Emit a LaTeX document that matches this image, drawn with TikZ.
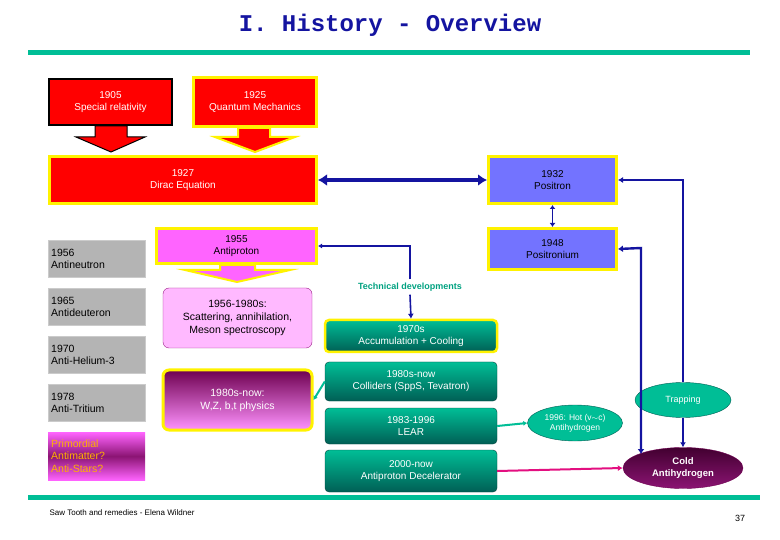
\documentclass[tikz,border=0pt]{standalone}
\usepackage{fontspec}
\setmainfont{Liberation Sans}
\newfontfamily\titlefont{Liberation Mono}
\usetikzlibrary{shapes.geometric,arrows.meta}
\definecolor{teal1}{RGB}{0,190,150}
\definecolor{teal2}{RGB}{0,95,85}
\definecolor{navy}{RGB}{20,20,160}
\definecolor{pvio}{RGB}{115,115,255}
\definecolor{mag}{RGB}{255,100,255}
\definecolor{dpur}{RGB}{110,0,80}
\definecolor{gry}{RGB}{180,180,180}
\begin{document}
\begin{tikzpicture}[x=1pt,y=-1pt,font=\fontsize{10}{12}\selectfont,
 redbox/.style={draw=yellow,line width=3pt,fill=red,text=white,align=center,inner sep=0},
 graybox/.style={draw=gry!70!white,fill=gry,align=left,anchor=north west,minimum width=97pt,minimum height=37pt,inner sep=3pt,text width=91pt,font=\fontsize{10.5}{12.5}\selectfont},
 greenbox/.style={draw=teal2!70!black,rounded corners=4pt,top color=teal1,bottom color=teal2,text=white,align=center,minimum width=172pt,inner sep=0},
 ell/.style={ellipse,draw=teal2,fill=teal1,text=white,align=center,inner sep=0,font=\fontsize{8.5}{10}\selectfont},
 conn/.style={draw=navy,line width=1.6pt,-{Latex[length=5pt,width=6pt]}}]
\useasboundingbox (0,0) rectangle (780,540);
\node[font=\titlefont\bfseries\fontsize{24}{26}\selectfont,text=navy] (title) at (390,25) {I. History - Overview};
\draw[teal1,line width=5pt] (28,53) -- (750,53);
\draw[teal1,line width=5pt] (28,497) -- (760,497);
% fat arrows
\draw[fill=red,draw=black,line width=1pt] (95,126)--(95,137)--(76,137)--(111,152)--(145,137)--(127,137)--(127,126)--cycle;
\draw[fill=red,draw=yellow,line width=2pt] (238,128)--(238,137)--(215,137)--(255,152)--(295,137)--(270,137)--(270,128)--cycle;
\draw[fill=mag,draw=yellow,line width=2pt] (220,265)--(220,270)--(185,270)--(237,282)--(290,270)--(255,270)--(255,265)--cycle;
\node[redbox,draw=black,line width=2pt,minimum width=123pt,minimum height=46pt] (b1905) at (110.5,102) {1905\\Special relativity};
\node[redbox,minimum width=123pt,minimum height=49pt] (b1925) at (255,102) {1925\\Quantum Mechanics};
\node[redbox,minimum width=267pt,minimum height=47pt] (dirac) at (183,180) {1927\\Dirac Equation};
\node[redbox,fill=pvio,text=black,minimum width=128pt,minimum height=47pt] (positron) at (552.5,180) {1932\\Positron};
\node[redbox,fill=pvio,text=black,minimum width=128pt,minimum height=41pt] (positronium) at (552.5,249) {1948\\Positronium};
\node[redbox,fill=mag,text=black,minimum width=160pt,minimum height=35pt] (antiproton) at (236.5,246) {1955\\Antiproton};
\draw[navy,line width=4pt,{Latex[length=9pt,width=12pt]}-{Latex[length=9pt,width=12pt]}] (dirac.east) -- (positron.west);
\draw[navy,line width=1.6pt,{Latex[length=4pt,width=6pt]}-{Latex[length=4pt,width=6pt]}] (positron.south) -- (positronium.north);
% gray column
\node[graybox] (an) at (48,240) {1956\\Antineutron};
\node[graybox] (ad) at (48,288) {1965\\Antideuteron};
\node[graybox] (ah) at (48,336) {1970\\Anti-Helium-3};
\node[graybox] (at) at (48,384) {1978\\Anti-Tritium};
\node[graybox,draw=none,top color=mag,bottom color=mag,middle color=dpur!80!mag,minimum height=48pt,text=orange!60!yellow] (prim) at (48,432) {Primordial\\Antimatter?\\Anti-Stars?};
\node[draw=dpur!70!mag,rounded corners=6pt,fill=mag!45!white,minimum width=149pt,minimum height=60pt,align=center,inner sep=0,font=\fontsize{10.5}{13}\selectfont] (scat) at (237.5,318) {1956-1980s:\\Scattering, annihilation,\\Meson spectroscopy};
\node[draw=yellow,line width=3pt,rounded corners=6pt,top color=dpur,bottom color=mag!70!white,text=white,minimum width=149pt,minimum height=60pt,align=center,inner sep=0,font=\fontsize{10.5}{13}\selectfont] (wz) at (237.5,400) {1980s-now:\\W,Z, b,t physics};
% technical
\node[text=teal1!85!black,font=\bfseries\fontsize{9}{10}\selectfont] (tech) at (410,287) {Technical developments};
\node[greenbox,draw=yellow,line width=2.5pt,minimum height=32pt] (g70) at (411,336) {1970s\\Accumulation + Cooling};
\node[greenbox,minimum height=39pt] (g80) at (411,381.5) {1980s-now\\Colliders (SppS, Tevatron)};
\node[greenbox,minimum height=36pt] (lear) at (411,426) {1983-1996\\LEAR};
\node[greenbox,minimum height=42pt] (ad2) at (411,471) {2000-now\\Antiproton Decelerator};
\coordinate (tup) at (410,246);
\draw[navy,line width=1.2pt,-{Latex[length=4pt,width=5pt]}] (tech.north) -- (tup) -- (antiproton.east);
\draw[conn] (tech.south) -- (g70.north);
\draw[teal1,line width=2pt,-{Latex[length=4pt,width=5pt]}] (g80.west) -- (wz.east);
\node[ell,minimum width=95pt,minimum height=36pt] (hot) at (575,423) {1996: Hot (v$\sim$c)\\Antihydrogen};
\node[ell,minimum width=96pt,minimum height=35pt,font=\fontsize{9}{10}\selectfont] (trap) at (683,400) {Trapping};
\node[ellipse,draw=dpur,top color=dpur!60!black,bottom color=dpur!80!mag,text=white,font=\bfseries\fontsize{9.5}{11.5}\selectfont,align=center,minimum width=120pt,minimum height=41pt,inner sep=0] (cold) at (683,468) {Cold\\Antihydrogen};
\draw[teal1,line width=2pt,-{Latex[length=4pt,width=5pt]}] (lear.east) -- (hot.west);
\draw[magenta!80!purple,line width=2pt,-{Latex[length=5pt,width=6pt]}] (ad2.east) -- (cold.west);
\coordinate (c1) at (683,180);
\draw[conn] (trap.north) -- (c1) -- (positron.east);
\draw[conn] (trap.south) -- (cold.north);
\coordinate (c2) at (641,248);
\coordinate (c3) at (641,454);
\draw[navy,line width=2.4pt,{Latex[length=5pt,width=7pt]}-{Latex[length=5pt,width=7pt]}] (positronium.east) -- (c2) -- (c3);
\node[anchor=west,font=\fontsize{8}{9}\selectfont] (foot) at (46,513) {Saw Tooth and remedies - Elena Wildner};
\node[font=\fontsize{9}{10}\selectfont] (pg) at (740,518) {37};
\end{tikzpicture}
\end{document}
